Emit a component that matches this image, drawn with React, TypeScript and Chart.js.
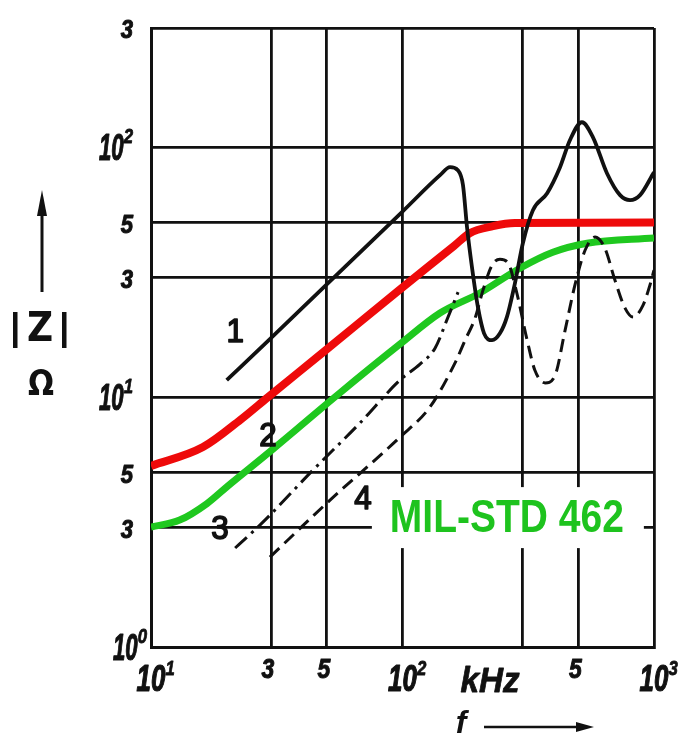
import React, { useEffect, useRef } from "react";
import { Chart, registerables } from "chart.js";

Chart.register(...registerables);

// Grid (tick) values
const xTicks = [10, 30, 50, 100, 300, 500, 1000];
const yTicks = [1, 3, 5, 10, 30, 50, 100, 300];

// Tick labels
const xLabelValues = [10, 30, 50, 100, 500, 1000];
const xLabelTexts = ["10^1", "3", "5", "10^2", "5", "10^3"];
const yLabelValues = [300, 100, 50, 30, 10, 5, 3, 1];
const yLabelTexts = ["3", "10^2", "5", "3", "10^1", "5", "3", "10^0"];

// Curve 1 (solid black)
const curve1Freq = [20, 29.2, 50.1, 99.5, 141, 154.5, 166, 174, 180.5, 188.9, 199.5, 211, 227, 244, 260, 280, 301, 330, 376, 423, 463, 517, 572, 650, 733, 803, 880, 1000];
const curve1Z = [11.7, 16.8, 28.3, 55, 77.3, 83.2, 80.9, 70.5, 47.9, 33.1, 22.9, 18.0, 16.9, 18.0, 20.9, 28.6, 41.3, 56.0, 65.5, 83.2, 106.7, 125.9, 109.6, 78.7, 64.3, 61.4, 64.3, 79.4];

// Curve 2 (red)
const curve2Freq = [10, 16.1, 22.6, 29.2, 48.3, 97.8, 160, 185, 229, 280, 1000];
const curve2Z = [5.3, 6.31, 8.09, 10.0, 15.1, 27.0, 40.2, 45.3, 48.3, 49.7, 50];

// MIL-STD 462 (green)
const milFreq = [10, 13, 16.7, 20, 30, 38, 56.4, 97.8, 141, 203, 293, 396, 542, 1000];
const milZ = [3.02, 3.22, 3.75, 4.37, 6.1, 7.45, 10.4, 16.3, 21.7, 26.1, 32.8, 38.0, 41.3, 43.3];

// Curve 3 (dash-dot)
const curve3Freq = [21.6, 27.6, 44.1, 67.7, 97.7, 117.4, 134.7, 151.7, 166.3];
const curve3Z = [2.49, 3.13, 5.11, 7.87, 11.7, 13.55, 15.7, 20.9, 26.3];

// Curve 4 (dashed)
const curve4Freq = [29.7, 51.5, 97.8, 128.5, 161.8, 177.4, 194.3, 209, 227, 244, 263, 283, 313, 336, 369, 404, 443, 485, 532, 583, 638, 699, 767, 826, 904, 964, 1000];
const curve4Z = [2.29, 3.87, 6.92, 9.12, 13.7, 16.9, 20.7, 26.8, 33.7, 35.6, 34.4, 26.8, 16.9, 12.8, 11.4, 12.2, 18.5, 28.1, 38.7, 43.7, 39.4, 29.4, 22.7, 20.9, 23.3, 28.1, 32.2];

// Curve annotations
const annotTexts = ["1", "2", "3", "4"];
const annotFreq = [21.6, 29.2, 18.8, 69.7];
const annotZ = [18.0, 6.92, 2.94, 3.87];
const milLabel = "MIL-STD 462";

const toPts = (xs: number[], ys: number[]) => xs.map((x, i) => ({ x, y: ys[i] }));

const TICK_FONT = "'Liberation Sans', Arial, sans-serif";

function drawScaled(ctx: CanvasRenderingContext2D, text: string, x: number, y: number, font: string, sx: number, align: string, stroke = 0) {
  ctx.save();
  ctx.font = font;
  const w = ctx.measureText(text).width * sx;
  const left = align === "center" ? x - w / 2 : align === "right" ? x - w : x;
  ctx.translate(left, y);
  ctx.scale(sx, 1);
  ctx.textAlign = "left";
  ctx.textBaseline = "middle";
  ctx.fillText(text, 0, 0);
  if (stroke > 0) {
    ctx.lineWidth = stroke;
    ctx.lineJoin = "round";
    ctx.strokeStyle = ctx.fillStyle as string;
    ctx.strokeText(text, 0, 0);
  }
  ctx.restore();
  return w;
}

function measureScaled(ctx: CanvasRenderingContext2D, text: string, font: string, sx: number) {
  ctx.save();
  ctx.font = font;
  const w = ctx.measureText(text).width * sx;
  ctx.restore();
  return w;
}

const decorPlugin = {
  id: "decor",
  beforeDatasetsDraw(chart: any) {
    const ctx = chart.ctx as CanvasRenderingContext2D;
    const xs = chart.scales.x;
    const ys = chart.scales.y;
    const cx = xs.getPixelForValue(260);
    const cy = ys.getPixelForValue(3.31);
    ctx.save();
    ctx.fillStyle = "#ffffff";
    ctx.fillRect(cx - 135, cy - 30, 272, 61);
    ctx.restore();
  },
  afterDraw(chart: any) {
    const ctx = chart.ctx as CanvasRenderingContext2D;
    const xs = chart.scales.x;
    const ys = chart.scales.y;
    const area = chart.chartArea;
    ctx.save();
    ctx.fillStyle = "#111";
    ctx.strokeStyle = "#111";

    // Y tick labels
    const yBig = `italic bold 37px ${TICK_FONT}`;
    const yExp = `italic bold 21px ${TICK_FONT}`;
    const ySmall = `italic bold 26px ${TICK_FONT}`;
    yLabelValues.forEach((v, i) => {
      const t = yLabelTexts[i];
      const py = ys.getPixelForValue(v) + 3;
      const right = area.left - 18;
      if (t.includes("^")) {
        const [b, e] = t.split("^");
        const we = measureScaled(ctx, e, yExp, 0.8);
        const wb = measureScaled(ctx, b, yBig, 0.6);
        const rr = v === 1 ? area.left - 4 : right;
        drawScaled(ctx, b, rr - we - wb, py, yBig, 0.6, "left", 1.2);
        drawScaled(ctx, e, rr - we, py - 13, yExp, 0.8, "left", 0.8);
      } else {
        drawScaled(ctx, t, right, py, ySmall, 0.85, "right", 1);
      }
    });

    // X tick labels
    const xBig = `italic bold 36px ${TICK_FONT}`;
    const xExp = `italic bold 21px ${TICK_FONT}`;
    const xSmall = `italic bold 27px ${TICK_FONT}`;
    const baseY = area.bottom;
    xLabelValues.forEach((v, i) => {
      const t = xLabelTexts[i];
      const px = xs.getPixelForValue(v);
      if (t.includes("^")) {
        const [b, e] = t.split("^");
        const wb = drawScaled(ctx, b, px, baseY + 34, xBig, 0.72, "center", 1.2);
        drawScaled(ctx, e, px + wb / 2, baseY + 22, xExp, 0.8, "left", 0.8);
      } else {
        drawScaled(ctx, t, px - 3, baseY + 24, xSmall, 0.85, "center", 1);
      }
    });
    // kHz unit
    drawScaled(ctx, "kHz", 490, baseY + 35, `italic bold 35px ${TICK_FONT}`, 0.95, "center", 0.8);
    // f ->
    drawScaled(ctx, "f", 461, baseY + 77, `italic bold 32px ${TICK_FONT}`, 1, "center");
    ctx.lineWidth = 2.5;
    ctx.beginPath();
    ctx.moveTo(484, baseY + 80);
    ctx.lineTo(580, baseY + 80);
    ctx.stroke();
    ctx.beginPath();
    ctx.moveTo(594, baseY + 80);
    ctx.lineTo(576, baseY + 75);
    ctx.lineTo(576, baseY + 85);
    ctx.closePath();
    ctx.fill();

    // Y title: arrow, |Z|, Ω
    ctx.lineWidth = 3;
    ctx.beginPath();
    ctx.moveTo(42, 292);
    ctx.lineTo(42, 208);
    ctx.stroke();
    ctx.beginPath();
    ctx.moveTo(42, 190);
    ctx.lineTo(37, 216);
    ctx.lineTo(47, 216);
    ctx.closePath();
    ctx.fill();
    ctx.fillRect(13, 312, 4.5, 36);
    ctx.fillRect(62, 312, 4.5, 36);
    drawScaled(ctx, "Z", 40, 331, `bold 40px 'DejaVu Sans', sans-serif`, 0.9, "center");
    drawScaled(ctx, "Ω", 41, 386, `bold 36px 'DejaVu Sans', sans-serif`, 0.85, "center");

    // Curve annotations
    annotTexts.forEach((t, i) => {
      const px = xs.getPixelForValue(annotFreq[i]);
      const py = ys.getPixelForValue(annotZ[i]);
      drawScaled(ctx, t, px, py, `33px ${TICK_FONT}`, 0.95, "center", 1.6);
    });

    // MIL-STD 462 label
    const mx = xs.getPixelForValue(260);
    const my = ys.getPixelForValue(3.31);
    ctx.fillStyle = "#1ec31e";
    const mFont = `bold 46px ${TICK_FONT}`;
    const natural = measureScaled(ctx, milLabel, mFont, 1);
    drawScaled(ctx, milLabel, mx, my + 2, mFont, 234 / natural, "center");
    ctx.restore();
  },
};

export default function App() {
  const ref = useRef<HTMLCanvasElement | null>(null);
  useEffect(() => {
    if (!ref.current) return;
    const lineDs = (data: any, color: string, width: number, dash: number[] = []) => ({
      data,
      borderColor: color,
      borderWidth: width,
      borderDash: dash,
      pointRadius: 0,
      fill: false,
      cubicInterpolationMode: "monotone" as const,
      borderCapStyle: "butt" as const,
      borderJoinStyle: "round" as const,
    });
    const chart = new Chart(ref.current, {
      type: "line",
      data: {
        datasets: [
          lineDs(toPts(curve4Freq, curve4Z), "#111", 3, [13, 7]),
          lineDs(toPts(curve3Freq, curve3Z), "#111", 3, [16, 6, 3, 6]),
          lineDs(toPts(curve1Freq, curve1Z), "#111", 3.8),
          lineDs(toPts(milFreq, milZ), "#1fc81f", 7),
          lineDs(toPts(curve2Freq, curve2Z), "#ee0a0a", 8),
        ],
      },
      options: {
        responsive: false,
        animation: false,
        devicePixelRatio: 1,
        parsing: false as any,
        layout: { padding: { left: 151, right: 30, top: 28, bottom: 91 } },
        plugins: { legend: { display: false }, tooltip: { enabled: false }, title: { display: false } },
        scales: {
          x: {
            type: "logarithmic",
            min: 10,
            max: 1000,
            afterBuildTicks: (s: any) => {
              s.ticks = xTicks.map((v) => ({ value: v }));
            },
            ticks: { display: false },
            grid: { color: "#111", lineWidth: 2.8, drawTicks: false },
            border: { color: "#111", width: 3 },
          },
          y: {
            type: "logarithmic",
            min: 1,
            max: 300,
            afterBuildTicks: (s: any) => {
              s.ticks = yTicks.map((v) => ({ value: v }));
            },
            ticks: { display: false },
            grid: { color: "#111", lineWidth: 2.8, drawTicks: false },
            border: { color: "#111", width: 3 },
          },
        },
      },
      plugins: [decorPlugin],
    });
    return () => chart.destroy();
  }, []);
  return (
    <div style={{ position: "absolute", left: 0, top: 0, width: 684, height: 738, background: "#fff" }}>
      <canvas ref={ref} width={684} height={738} style={{ display: "block" }} />
    </div>
  );
}
